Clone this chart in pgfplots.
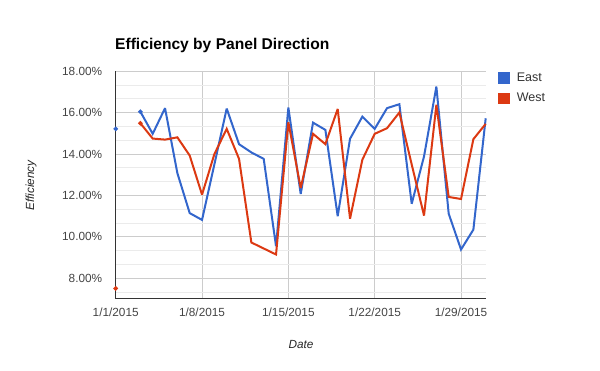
\documentclass[border=0pt]{standalone}
\usepackage{pgfplots}
\pgfplotsset{compat=1.18}
\usepackage{fontspec}
\setmainfont{Liberation Sans}
\definecolor{eastc}{HTML}{3366CC}
\definecolor{westc}{HTML}{DC3912}
\definecolor{majgrid}{HTML}{CCCCCC}
\definecolor{mingrid}{HTML}{EBEBEB}
\definecolor{ticktxt}{HTML}{444444}
\definecolor{axl}{HTML}{333333}
\begin{document}
\begin{tikzpicture}
\useasboundingbox (0,0) rectangle (600bp,371bp);
\begin{axis}[
  at={(115.7bp,72bp)}, anchor=south west,
  scale only axis, width=370bp, height=227.7bp,
  xmin=0, xmax=30, ymin=7, ymax=18,
  xtick={0,7,14,21,28},
  xticklabels={1/1/2015,1/8/2015,1/15/2015,1/22/2015,1/29/2015},
  ytick={8,10,12,14,16,18},
  minor ytick={7.3333,8.6667,9.3333,10.6667,11.3333,12.6667,13.3333,14.6667,15.3333,16.6667,17.3333},
  yticklabel={\pgfmathprintnumber[fixed,fixed zerofill,precision=2]{\tick}\%},
  /pgf/number format/assume math mode=true,
  xmajorgrids, ymajorgrids, yminorgrids,
  major grid style={majgrid, line width=1bp},
  minor grid style={mingrid, line width=1bp},
  axis x line*=bottom, axis y line*=left,
  axis line style={axl, line width=1bp, -},
  tick style={draw=none},
  ticklabel style={font=\fontsize{11.8bp}{13bp}\selectfont, text=ticktxt},
  yticklabel style={xshift=-10bp},
  xticklabel style={yshift=-5bp},
  unbounded coords=jump,
  legend style={at={(1.033,1.0)}, anchor=north west, draw=none, fill=none,
    font=\fontsize{12.5bp}{13bp}\selectfont, text=black!80, row sep=6bp,
    inner sep=0pt, outer sep=0pt, cells={anchor=west}},
  legend image code/.code={\fill[#1, draw=none] (0bp,-5.9bp) rectangle (11.7bp,5.9bp); \path (16bp,0bp);},
  clip=false,
]
\addplot[eastc, line width=2bp, miter limit=3, mark=*, mark indices={1}, mark size=1.1bp, mark options={draw=none, fill=eastc}] coordinates {
(0,15.22) (1,nan) (2,16.05) (3,14.98) (4,16.22) (5,13.08) (6,11.15) (7,10.82) (8,13.5)
(9,16.2) (10,14.48) (11,14.08) (12,13.77) (13,9.55) (14,16.25) (15,12.07) (16,15.52)
(17,15.17) (18,11.0) (19,14.74) (20,15.81) (21,15.22) (22,16.22) (23,16.41) (24,11.6)
(25,13.89) (26,17.26) (27,11.12) (28,9.39) (29,10.35) (30,15.73)
};
\addlegendentry{East}
\addplot[westc, line width=2bp, miter limit=3, mark=*, mark indices={1}, mark size=1.1bp, mark options={draw=none, fill=westc}] coordinates {
(0,7.51) (1,nan) (2,15.49) (3,14.75) (4,14.7) (5,14.81) (6,13.93) (7,12.04) (8,14.0)
(9,15.22) (10,13.77) (11,9.73) (12,9.44) (13,9.15) (14,15.54) (15,12.36) (16,14.98)
(17,14.48) (18,16.18) (19,10.88) (20,13.73) (21,14.98) (22,15.25) (23,16.01) (24,13.5)
(25,11.03) (26,16.38) (27,11.93) (28,11.83) (29,14.72) (30,15.46)
};
\addlegendentry{West}
\end{axis}
\node[anchor=base west, inner sep=0pt, font=\bfseries\fontsize{15.6bp}{18bp}\selectfont] at (115bp,321bp) {Efficiency by Panel Direction};
\node[rotate=90, inner sep=0pt, font=\itshape\fontsize{11.8bp}{13bp}\selectfont, text=black!85] at (31bp,185.5bp) {Efficiency};
\node[inner sep=0pt, font=\itshape\fontsize{11.8bp}{13bp}\selectfont, text=black!85] at (301bp,26.5bp) {Date};
\end{tikzpicture}
\end{document}
